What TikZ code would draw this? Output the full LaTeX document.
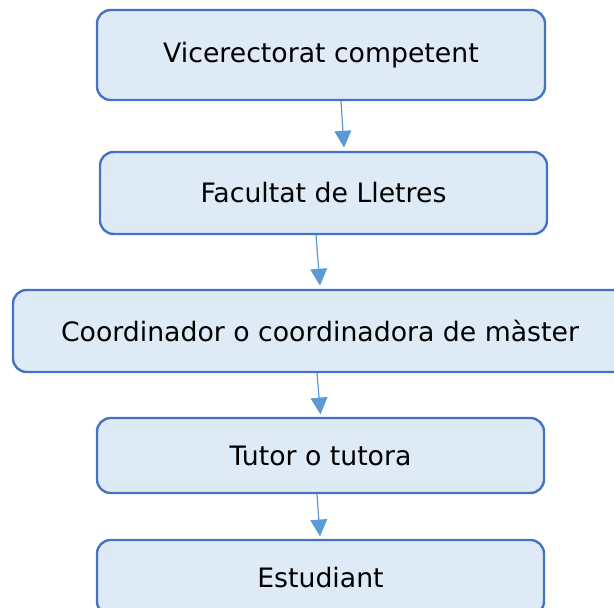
\documentclass[tikz,border=0pt]{standalone}
\usepackage{fontspec}
\setmainfont{DejaVu Sans}
\usepackage{xcolor}
\usetikzlibrary{arrows.meta}

\definecolor{vora}{HTML}{4472C4}
\definecolor{fons}{HTML}{DEEAF6}
\definecolor{fletxa}{HTML}{5B9BD5}

\begin{document}
\begin{tikzpicture}[
	caixa/.style={draw=vora, fill=fons, line width=0.06cm, rounded corners=0.34cm,
		font=\fontsize{19}{22}\selectfont, inner sep=0pt},
	flux/.style={-{Triangle[width=0.42cm,length=0.42cm]}, color=fletxa, line width=0.03cm}
	]
	\useasboundingbox (0,0) rectangle (15.35,-15.175);

	\node[caixa, minimum width=11.2cm, minimum height=2.25cm] (vice) at (8.025,-1.375) {Vicerectorat competent};
	\node[caixa, minimum width=11.175cm, minimum height=2.05cm] (facu) at (8.0875,-4.825) {Facultat de Lletres};
	\node[caixa, minimum width=15.35cm, minimum height=2.05cm] (coor) at (8.0,-8.275) {Coordinador o coordinadora de màster};
	\node[caixa, minimum width=11.175cm, minimum height=1.875cm] (tuto) at (8.0125,-11.3875) {Tutor o tutora};
	\node[caixa, minimum width=11.175cm, minimum height=1.875cm] (estu) at (8.0125,-14.4375) {Estudiant};

	\draw[flux] ([xshift=0.5cm]vice.south) -- ([xshift=0.5125cm,yshift=0.08cm]facu.north);
	\draw[flux] ([xshift=-0.1875cm]facu.south) -- ([yshift=0.08cm]coor.north);
	\draw[flux] ([xshift=-0.075cm]coor.south) -- ([yshift=0.06cm]tuto.north);
	\draw[flux] ([xshift=-0.0875cm]tuto.south) -- ([xshift=-0.0125cm,yshift=0.06cm]estu.north);

\end{tikzpicture}
\end{document}
